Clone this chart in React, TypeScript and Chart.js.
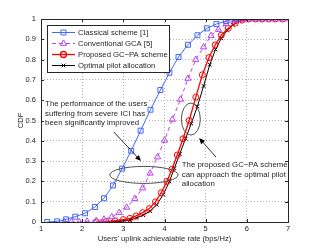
import React, { useEffect, useRef } from 'react';
import { Chart, registerables } from 'chart.js';
import { drawPoint } from 'chart.js/helpers';

Chart.register(...registerables);

// ---- Data ----
const classicalX = [1.15, 1.39, 1.61, 1.83, 2.07, 2.31, 2.53, 2.75, 2.97, 3.19, 3.42, 3.66, 3.9, 4.12, 4.34, 4.57, 4.8, 5.03, 5.26, 5.49, 5.71];
const classicalY = [0, 0.003, 0.013, 0.026, 0.043, 0.074, 0.117, 0.18, 0.263, 0.351, 0.45, 0.553, 0.65, 0.735, 0.813, 0.873, 0.92, 0.954, 0.975, 0.99, 1.0];

const gcaX = [1.56, 1.74, 1.93, 2.12, 2.34, 2.53, 2.72, 2.9, 3.08, 3.28, 3.47, 3.65, 3.83, 4.0, 4.19, 4.39, 4.57, 4.76, 4.95, 5.13, 5.31, 5.5, 5.71, 5.89, 6.08, 6.26, 6.44, 6.63, 6.81, 7.0];
const gcaY = [0, 0, 0, 0.003, 0.006, 0.013, 0.025, 0.046, 0.072, 0.115, 0.167, 0.24, 0.32, 0.402, 0.505, 0.604, 0.707, 0.8, 0.862, 0.918, 0.948, 0.976, 0.993, 0.998, 1, 1, 1, 1, 1, 1];

const proposedX = [2.34, 2.58, 2.8, 3.0, 3.16, 3.31, 3.47, 3.63, 3.78, 3.92, 4.06, 4.18, 4.31, 4.45, 4.6, 4.76, 4.92, 5.08, 5.23, 5.38, 5.55, 5.72, 5.89, 6.05, 6.21, 6.37, 6.53, 6.69, 6.87];
const proposedY = [0, 0.002, 0.006, 0.012, 0.018, 0.03, 0.046, 0.066, 0.099, 0.144, 0.2, 0.26, 0.33, 0.41, 0.5, 0.615, 0.725, 0.81, 0.872, 0.92, 0.955, 0.98, 0.995, 1, 1, 1, 1, 1, 1];

const optimalX = [2.55, 2.75, 2.95, 3.16, 3.32, 3.48, 3.65, 3.81, 3.97, 4.12, 4.24, 4.37, 4.51, 4.65, 4.8, 4.95, 5.1, 5.24, 5.38, 5.52, 5.66, 5.82, 5.98, 6.14, 6.3, 6.46, 6.62, 6.78];
const optimalY = [0, 0.001, 0.004, 0.01, 0.02, 0.034, 0.053, 0.085, 0.135, 0.2, 0.265, 0.335, 0.41, 0.485, 0.57, 0.67, 0.775, 0.85, 0.905, 0.944, 0.97, 0.988, 0.997, 1, 1, 1, 1, 1];

const seriesLabels = ['Classical scheme [1]', 'Conventional GCA [5]', 'Proposed GC\u2212PA scheme', 'Optimal pilot allocation'];
const xTickValues = [1, 2, 3, 4, 5, 6, 7];
const yTickValues = [0, 0.1, 0.2, 0.3, 0.4, 0.5, 0.6, 0.7, 0.8, 0.9, 1];
const xTitle = "Users' uplink achievalable rate (bps/Hz)";
const yTitle = 'CDF';

const noteA = ['The performance of the users', 'suffering from severe ICI has', 'been significantly improved'];
const noteB = ['The proposed GC\u2212PA scheme', 'can approach the optimal pilot', 'allocation'];

const FONT = '"Liberation Sans", Arial, Helvetica, sans-serif';
const TEXT = '#262626';
const NOTE_FONT = `7.8px ${FONT}`;
const NOTE_LH = 9.5;

function zip(xs: number[], ys: number[]) {
  return xs.map((x, i) => ({ x, y: ys[i] }));
}

const notes: { lines: string[]; x: number; y: number }[] = [
  { lines: noteA, x: 1.1, y: 0.581 },
  { lines: noteB, x: 4.42, y: 0.281 },
];

const overlayPlugin = {
  id: 'overlay',
  beforeDatasetsDraw(chart: any) {
    const { ctx, scales } = chart;
    ctx.save();
    ctx.font = NOTE_FONT;
    ctx.fillStyle = '#fff';
    notes.forEach((n) => {
      const x0 = scales.x.getPixelForValue(n.x);
      const y0 = scales.y.getPixelForValue(n.y);
      const w = Math.max(...n.lines.map((l) => ctx.measureText(l).width));
      ctx.fillRect(x0 - 1.5, y0 - 5, w + 3, NOTE_LH * (n.lines.length - 1) + 10);
    });
    ctx.restore();
  },
  afterDatasetsDraw(chart: any) {
    const { ctx, chartArea: a, scales } = chart;
    const sx = scales.x;
    const sy = scales.y;
    const px = (v: number) => sx.getPixelForValue(v);
    const py = (v: number) => sy.getPixelForValue(v);

    ctx.save();
    // ellipses
    ctx.strokeStyle = '#505050';
    ctx.lineWidth = 1;
    const ell = (cx: number, cy: number, rx: number, ry: number) => {
      const x0 = px(cx), y0 = py(cy);
      const rpx = Math.abs(px(cx + rx) - x0);
      const rpy = Math.abs(py(cy + ry) - y0);
      ctx.beginPath();
      ctx.ellipse(x0, y0, rpx, rpy, 0, 0, Math.PI * 2);
      ctx.stroke();
    };
    ell(3.5, 0.232, 0.83, 0.042);
    ell(4.64, 0.507, 0.23, 0.079);

    // arrows
    const arrow = (x1: number, y1: number, x2: number, y2: number) => {
      const a1 = px(x1), b1 = py(y1), a2 = px(x2), b2 = py(y2);
      const ang = Math.atan2(b2 - b1, a2 - a1);
      const L = 6, W = 2.6;
      ctx.strokeStyle = '#303030';
      ctx.fillStyle = '#000';
      ctx.beginPath();
      ctx.moveTo(a1, b1);
      ctx.lineTo(a2 - Math.cos(ang) * L * 0.8, b2 - Math.sin(ang) * L * 0.8);
      ctx.stroke();
      ctx.beginPath();
      ctx.moveTo(a2, b2);
      ctx.lineTo(a2 - Math.cos(ang) * L - Math.sin(ang) * W, b2 - Math.sin(ang) * L + Math.cos(ang) * W);
      ctx.lineTo(a2 - Math.cos(ang) * L + Math.sin(ang) * W, b2 - Math.sin(ang) * L - Math.cos(ang) * W);
      ctx.closePath();
      ctx.fill();
    };
    arrow(2.77, 0.443, 3.43, 0.3);
    arrow(5.25, 0.32, 4.84, 0.414);

    // text notes
    ctx.font = NOTE_FONT;
    ctx.fillStyle = TEXT;
    ctx.textBaseline = 'middle';
    ctx.textAlign = 'left';
    notes.forEach((n) => {
      const x0 = px(n.x);
      const y0 = py(n.y);
      n.lines.forEach((l, i) => ctx.fillText(l, x0, y0 + i * NOTE_LH));
    });

    // frame
    ctx.strokeStyle = TEXT;
    ctx.lineWidth = 1;
    ctx.strokeRect(Math.round(a.left) + 0.5, Math.round(a.top) + 0.5, Math.round(a.right - a.left), Math.round(a.bottom - a.top));
    // inward ticks
    const tl = 3;
    ctx.beginPath();
    xTickValues.forEach((v) => {
      const p = Math.round(px(v)) + 0.5;
      ctx.moveTo(p, a.bottom);
      ctx.lineTo(p, a.bottom - tl);
      ctx.moveTo(p, a.top);
      ctx.lineTo(p, a.top + tl);
    });
    yTickValues.forEach((v) => {
      const p = Math.round(py(v)) + 0.5;
      ctx.moveTo(a.left, p);
      ctx.lineTo(a.left + tl, p);
      ctx.moveTo(a.right, p);
      ctx.lineTo(a.right - tl, p);
    });
    ctx.stroke();

    // legend
    const lx = a.left + 6, ly = a.top + 6, lw = 122, lhgt = 47;
    ctx.fillStyle = '#fff';
    ctx.fillRect(lx, ly, lw, lhgt);
    ctx.strokeStyle = TEXT;
    ctx.strokeRect(Math.round(lx) + 0.5, Math.round(ly) + 0.5, lw, lhgt);
    ctx.font = `7.7px ${FONT}`;
    ctx.textBaseline = 'middle';
    chart.data.datasets.forEach((ds: any, i: number) => {
      const yy = ly + 7.5 + i * 11;
      ctx.save();
      ctx.strokeStyle = ds.borderColor;
      ctx.lineWidth = ds.borderWidth;
      ctx.setLineDash(ds.borderDash || []);
      ctx.beginPath();
      ctx.moveTo(lx + 5, yy);
      ctx.lineTo(lx + 28, yy);
      ctx.stroke();
      ctx.setLineDash([]);
      ctx.strokeStyle = ds.pointBorderColor;
      ctx.fillStyle = 'rgba(0,0,0,0)';
      drawPoint(ctx, { pointStyle: ds.pointStyle, radius: ds.pointRadius, rotation: 0, borderWidth: ds.pointBorderWidth }, lx + 16.5, yy);
      ctx.restore();
      ctx.fillStyle = TEXT;
      ctx.fillText(ds.label, lx + 31, yy);
    });
    ctx.restore();
  },
};

export default function App() {
  const ref = useRef<HTMLCanvasElement>(null);
  useEffect(() => {
    document.body.style.margin = '0';
    const canvas = ref.current!;
    const mk = (label: string, xs: number[], ys: number[], color: string, style: string, r: number, bw: number, dash?: number[]) => ({
      label,
      data: zip(xs, ys),
      borderColor: color,
      borderWidth: bw,
      borderDash: dash || [],
      pointStyle: style,
      pointRadius: r,
      pointBorderColor: color,
      pointBackgroundColor: 'rgba(0,0,0,0)',
      pointBorderWidth: 1,
      fill: false,
      tension: 0,
    });
    const chart = new Chart(canvas, {
      type: 'line',
      data: {
        datasets: [
          mk(seriesLabels[0], classicalX, classicalY, '#4468f5', 'rect', 3.5, 1),
          mk(seriesLabels[1], gcaX, gcaY, '#bb44f0', 'triangle', 3.6, 1, [4, 3]),
          mk(seriesLabels[2], proposedX, proposedY, '#ff0000', 'circle', 3, 1.3),
          mk(seriesLabels[3], optimalX, optimalY, '#000000', 'crossRot', 2.6, 1),
        ] as any,
      },
      options: {
        responsive: false,
        animation: false,
        devicePixelRatio: 1,
        layout: { padding: { left: 0, right: 31, top: 19, bottom: 0 } },
        plugins: { legend: { display: false }, tooltip: { enabled: false } },
        scales: {
          x: {
            type: 'linear',
            min: 1,
            max: 7,
            afterFit: (s: any) => { s.height = 27; },
            afterBuildTicks: (s: any) => { s.ticks = xTickValues.map((v) => ({ value: v })); },
            ticks: { color: TEXT, font: { family: FONT, size: 7.5 }, padding: 2, maxRotation: 0, callback: (v: any) => String(v) },
            grid: { color: '#b4b4b4', lineWidth: 1, drawTicks: false },
            border: { display: false, dash: [1, 2] },
            title: { display: true, text: xTitle, color: TEXT, font: { family: FONT, size: 7.6 }, padding: { top: 0, bottom: 6 } },
          },
          y: {
            type: 'linear',
            min: 0,
            max: 1,
            afterFit: (s: any) => { s.width = 41; },
            afterBuildTicks: (s: any) => { s.ticks = yTickValues.map((v) => ({ value: v })); },
            ticks: { color: TEXT, font: { family: FONT, size: 7.5 }, padding: 5, callback: (v: any) => String(Math.round(v * 10) / 10) },
            grid: { color: '#b4b4b4', lineWidth: 1, drawTicks: false },
            border: { display: false, dash: [1, 2] },
            title: { display: true, text: yTitle, color: TEXT, font: { family: FONT, size: 7.6 }, padding: { top: 16, bottom: 0 } },
          },
        },
      },
      plugins: [overlayPlugin],
    } as any);
    return () => chart.destroy();
  }, []);
  return (
    <div style={{ position: 'fixed', left: 0, top: 0, width: 319, height: 249, background: '#fff' }}>
      <canvas ref={ref} width={319} height={249} style={{ width: 319, height: 249, display: 'block' }} />
    </div>
  );
}
